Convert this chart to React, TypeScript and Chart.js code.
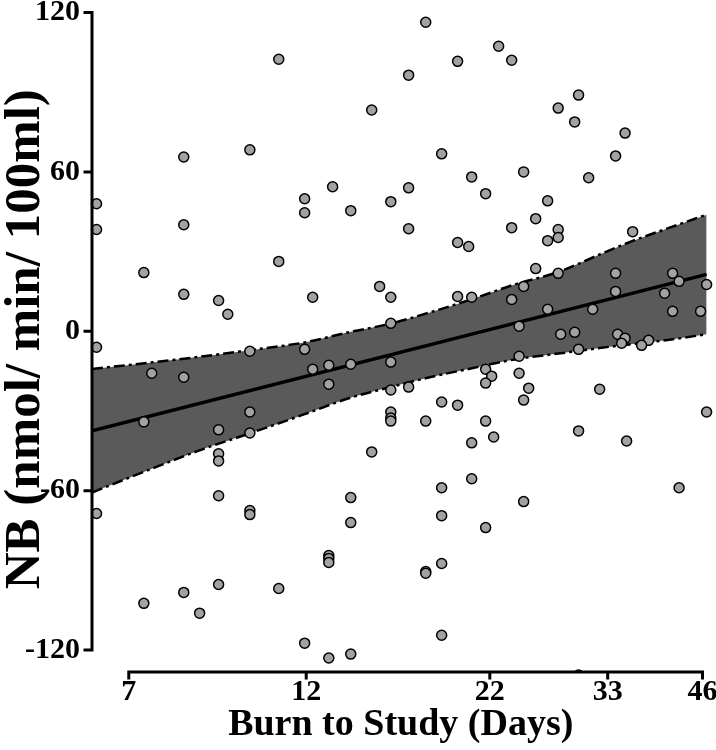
import React, { useEffect, useRef } from 'react';
import { Chart, registerables } from 'chart.js';

Chart.register(...registerables);

// Axis: logarithmic in (days - DAY_SHIFT)
const DAY_SHIFT = 1.5;
const X_TICKS = [7, 12, 22, 33, 46];
const Y_TICKS = [120, 60, 0, -60, -120];
const X_RANGE = [6.31, 47.15];
const Y_RANGE = [-128.25, 122.25];

const X_TITLE = 'Burn to Study (Days)';
const Y_TITLE = 'NB (nmol/ min/ 100ml)';

const POINT_DAYS = [
  11.0, 16.75, 14.83, 8.22, 10.05, 6.39, 6.39, 8.22, 13.06, 11.94,
  11.94, 13.85, 15.79, 16.75, 16.75, 11.0, 7.31, 8.22, 9.13, 9.39,
  12.25, 15.22, 15.79, 15.79, 17.73, 22.67, 19.73, 23.7, 29.83, 27.8,
  29.43, 35.06, 18.7, 33.92, 20.69, 24.69, 30.89, 21.69, 26.81, 25.73,
  23.7, 27.8, 27.8, 26.81, 19.73, 20.48, 36.0, 25.73, 27.8, 33.92,
  41.41, 42.36, 46.67, 24.69, 19.73, 20.69, 23.7, 33.92, 40.26, 26.81,
  31.32, 41.41, 45.69, 24.31, 6.39, 10.05, 11.94, 7.48, 8.22, 12.25,
  12.9, 12.9, 13.85, 15.79, 15.79, 16.75, 7.31, 9.13, 10.05, 10.05,
  15.79, 15.79, 15.79, 14.83, 9.13, 9.13, 9.13, 13.85, 10.05, 10.05,
  6.39, 13.85, 12.9, 12.9, 12.9, 9.13, 8.22, 11.0, 7.31, 8.62,
  11.94, 12.9, 13.85, 28.04, 29.43, 34.16, 35.06, 34.64, 38.07, 37.14,
  29.83, 24.31, 21.69, 22.14, 21.69, 24.31, 25.12, 18.7, 19.73, 32.09,
  24.69, 17.73, 21.69, 22.29, 20.69, 29.83, 35.25, 46.67, 20.69, 18.7,
  24.69, 42.36, 18.7, 21.69, 18.7, 17.73, 17.73, 18.7, 29.83,
];
const POINT_NB = [
  102.4, 96.4, 83.3, 65.6, 68.3, 48.0, 38.3, 40.1, 54.4, 49.9,
  44.6, 45.4, 48.8, 54.0, 38.6, 26.3, 22.1, 13.9, 11.6, 6.4,
  12.8, 16.9, 12.8, 3.0, 116.3, 107.3, 101.6, 102.0, 88.9, 84.0,
  78.8, 74.6, 66.8, 66.0, 58.1, 60.0, 57.8, 51.8, 49.1, 42.4,
  39.0, 38.3, 35.3, 34.1, 33.4, 31.9, 37.5, 23.6, 21.8, 21.8,
  21.8, 18.8, 17.6, 16.9, 13.1, 12.8, 12.0, 15.0, 14.3, 8.3,
  8.3, 7.5, 7.5, 1.9, -6.0, -7.5, -6.8, -15.8, -17.3, -14.3,
  -12.8, -19.9, -12.4, -11.6, -22.1, -21.0, -34.1, -37.1, -30.4, -38.3,
  -30.4, -32.6, -33.8, -45.4, -46.1, -48.8, -61.9, -62.6, -67.5, -69.0,
  -68.6, -72.0, -84.4, -85.5, -87.0, -95.3, -98.3, -96.8, -102.4, -106.1,
  -117.4, -123.0, -121.5, -1.1, -0.4, -1.1, -2.6, -4.5, -3.4, -5.3,
  -6.8, -9.4, -14.3, -16.9, -19.5, -15.8, -21.4, -26.6, -27.8, -21.8,
  -25.9, -33.8, -33.8, -39.8, -42.0, -37.5, -41.3, -30.4, -55.5, -58.9,
  -64.1, -58.9, -69.4, -73.9, -87.4, -90.4, -91.1, -114.4, -129.4,
];

const FIT_DAYS = [6.31, 46.67];
const FIT_NB = [-37.5, 21.4];

const BAND_DAYS = [6.31, 7.44, 8.62, 10.05, 11.94, 13.8, 15.79, 17.97, 20.55, 23.94, 27.8, 32.09, 36.0, 40.97, 46.67];
const BAND_UPPER = [-14.2, -11.8, -9.6, -7.1, -4.2, -0.3, 2.9, 7.1, 11.8, 17.6, 22.3, 28.9, 34.0, 39.0, 43.9];
const BAND_LOWER = [-60.7, -52.0, -44.8, -38.4, -31.2, -25.1, -21.0, -17.3, -14.1, -10.6, -8.4, -6.3, -4.8, -3.2, -1.1];

const FONT = '"Liberation Serif", "Times New Roman", serif';

const toU = (d: number) => Math.log(d - DAY_SHIFT);
const pts = (xs: number[], ys: number[]) => xs.map((d, i) => ({ x: toU(d), y: ys[i] }));

const axesPlugin = {
  id: 'rStyleAxes',
  afterDraw(chart: any) {
    const { ctx, chartArea, scales } = chart;
    const xs = scales.x;
    const ys = scales.y;
    ctx.save();
    ctx.strokeStyle = '#000';
    ctx.lineWidth = 3;
    ctx.lineCap = 'square';
    const ax = chartArea.left;
    const yTop = ys.getPixelForValue(Y_TICKS[0]);
    const yBot = ys.getPixelForValue(Y_TICKS[Y_TICKS.length - 1]);
    ctx.beginPath();
    ctx.moveTo(ax, yTop);
    ctx.lineTo(ax, yBot);
    Y_TICKS.forEach((t) => {
      const py = ys.getPixelForValue(t);
      ctx.moveTo(ax, py);
      ctx.lineTo(ax - 7, py);
    });
    ctx.stroke();
    const ay = chartArea.bottom;
    const xL = xs.getPixelForValue(toU(X_TICKS[0]));
    const xR = xs.getPixelForValue(toU(X_TICKS[X_TICKS.length - 1]));
    ctx.beginPath();
    ctx.moveTo(xL, ay);
    ctx.lineTo(xR, ay);
    X_TICKS.forEach((t) => {
      const px = xs.getPixelForValue(toU(t));
      ctx.moveTo(px, ay);
      ctx.lineTo(px, ay + 6);
    });
    ctx.stroke();
    ctx.restore();
  },
};

export default function App() {
  const ref = useRef<HTMLCanvasElement | null>(null);

  useEffect(() => {
    if (!ref.current) return;
    const chart = new Chart(ref.current, {
      type: 'scatter',
      data: {
        datasets: [
          {
            type: 'scatter',
            data: pts(POINT_DAYS, POINT_NB),
            pointRadius: 5,
            pointBorderWidth: 1.5,
            pointBackgroundColor: '#a2a2a2',
            pointBorderColor: '#000',
            clip: { left: false, top: false, right: false, bottom: 0 },
          } as any,
          {
            type: 'line',
            data: pts(FIT_DAYS, FIT_NB),
            borderColor: '#000',
            borderWidth: 3.5,
            pointRadius: 0,
            fill: false,
          },
          {
            type: 'line',
            data: pts(BAND_DAYS, BAND_LOWER),
            borderColor: '#000',
            borderWidth: 2.5,
            borderDash: [11, 4, 3, 4],
            pointRadius: 0,
            cubicInterpolationMode: 'monotone',
            fill: false,
          },
          {
            type: 'line',
            data: pts(BAND_DAYS, BAND_UPPER),
            borderColor: '#000',
            borderWidth: 2.5,
            borderDash: [11, 4, 3, 4],
            pointRadius: 0,
            cubicInterpolationMode: 'monotone',
            fill: '-1',
            backgroundColor: '#5a5a5a',
          },
        ],
      },
      options: {
        responsive: false,
        animation: false,
        devicePixelRatio: 1,
        layout: { padding: { top: 4, right: 6, left: 0, bottom: 0 } },
        plugins: {
          legend: { display: false },
          tooltip: { enabled: false },
        },
        scales: {
          x: {
            type: 'linear',
            min: toU(X_RANGE[0]),
            max: toU(X_RANGE[1]),
            afterBuildTicks: (s: any) => {
              s.ticks = X_TICKS.map((d) => ({ value: toU(d) }));
            },
            afterFit: (s: any) => {
              s.height = 78;
              s.paddingLeft = 0;
              s.paddingRight = 0;
              s.paddingTop = 0;
              s.paddingBottom = 0;
            },
            grid: { display: false, drawTicks: false },
            border: { display: false },
            ticks: {
              autoSkip: false,
              maxRotation: 0,
              padding: 5,
              color: '#000',
              font: { family: FONT, size: 30, weight: 'bold', lineHeight: 1 },
              callback: (_v: any, i: number) => String(X_TICKS[i]),
            },
            title: {
              display: true,
              text: X_TITLE,
              color: '#000',
              font: { family: FONT, size: 38, weight: 'bold', lineHeight: 1 },
              padding: { top: 0, bottom: 6 },
            },
          },
          y: {
            type: 'linear',
            min: Y_RANGE[0],
            max: Y_RANGE[1],
            afterBuildTicks: (s: any) => {
              s.ticks = Y_TICKS.map((v) => ({ value: v }));
            },
            afterFit: (s: any) => {
              s.width = 92;
              s.paddingLeft = 0;
              s.paddingRight = 0;
              s.paddingTop = 0;
              s.paddingBottom = 0;
            },
            grid: { display: false, drawTicks: false },
            border: { display: false },
            ticks: {
              autoSkip: false,
              padding: 12,
              color: '#000',
              font: { family: FONT, size: 30, weight: 'bold', lineHeight: 1 },
              callback: (v: any) => String(v),
            },
            title: {
              display: true,
              text: Y_TITLE,
              color: '#000',
              font: { family: FONT, size: 51, weight: 'bold', lineHeight: 1 },
              padding: { top: 0, bottom: 0 },
            },
          },
        },
      },
      plugins: [axesPlugin],
    } as any);
    return () => chart.destroy();
  }, []);

  return (
    <div style={{ position: 'absolute', left: 0, top: 0, width: 716, height: 750, background: '#fff' }}>
      <canvas ref={ref} width={716} height={750} />
    </div>
  );
}
